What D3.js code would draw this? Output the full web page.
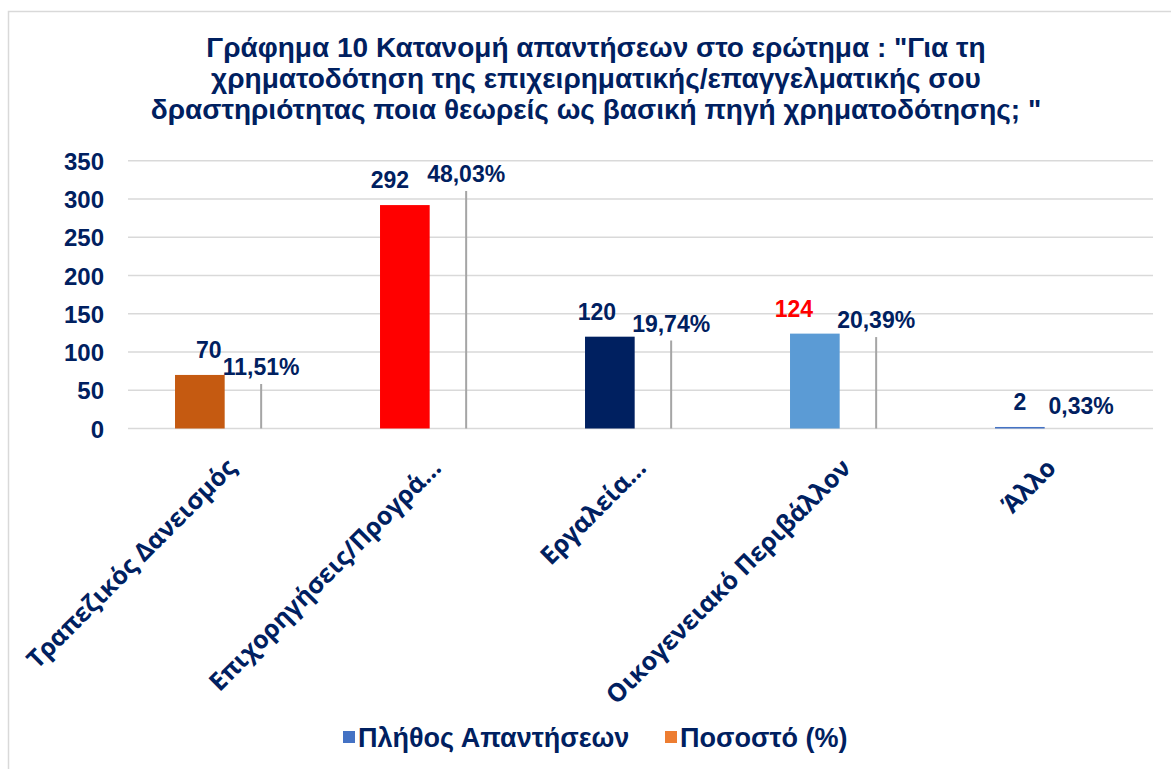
<!DOCTYPE html>
<html>
<head>
<meta charset="utf-8">
<script src="https://cdn.jsdelivr.net/npm/d3@7"></script>
<style>
html,body{margin:0;padding:0;background:#fff;}
svg{display:block;}
</style>
</head>
<body>
<svg id="chart" width="1171" height="769"></svg>
<script>
const titleLines = [
  "Γράφημα 10 Κατανομή απαντήσεων στο ερώτημα : \"Για τη",
  "χρηματοδότηση της επιχειρηματικής/επαγγελματικής σου",
  "δραστηριότητας ποια θεωρείς ως βασική πηγή χρηματοδότησης; \""
];
const categories = ["Τραπεζικός Δανεισμός","Επιχορηγήσεις/Προγρά…","Εργαλεία…","Οικογενειακό Περιβάλλον","Άλλο"];
const counts = [70, 292, 120, 124, 2];
const percents = [11.51, 48.03, 19.74, 20.39, 0.33];
const percentLabels = ["11,51%","48,03%","19,74%","20,39%","0,33%"];
const barColors = ["#C55A11","#FF0000","#002060","#5B9BD5","#4472C4"];
const countLabelColors = ["#002060","#002060","#002060","#FF0000","#002060"];
const yTicks = [0,50,100,150,200,250,300,350];
const seriesNames = ["Πλήθος Απαντήσεων","Ποσοστό (%)"];
const legendColors = ["#4472C4","#ED7D31"];
// layout: horizontal nudge of the count labels (as placed in the original)
const countLabelShift = [9, -15, -13, -21, 0];

const navy = "#002060";
const svg = d3.select("#chart");

// chart border
svg.append("rect").attr("x",8.5).attr("y",11.5).attr("width",1200).attr("height",800)
  .attr("fill","none").attr("stroke","#D9D9D9").attr("stroke-width",1.5);

// title
svg.append("g").selectAll("text").data(titleLines).join("text")
  .attr("x",596).attr("y",(d,i)=>57+i*31)
  .attr("text-anchor","middle")
  .attr("font-family","'Liberation Sans', Arial, sans-serif")
  .attr("font-weight","bold").attr("font-size",28)
  .attr("fill",navy).text(d=>d);

const plotL = 128, plotR = 1153, plotT = 160.7, plotB = 428.5;
const x = d3.scaleBand().domain(categories).range([plotL, plotR]).padding(0);
const inner = d3.scaleBand().domain(["count","pct"]).range([0, x.bandwidth()])
  .paddingInner(0.19).paddingOuter(0.767);
const y = d3.scaleLinear().domain([0,350]).range([plotB, plotT]);
const ySec = d3.scaleLinear().domain([3.09, 53.76]).range([plotB, plotT]);

// gridlines
svg.append("g").selectAll("line").data(yTicks).join("line")
  .attr("x1",plotL).attr("x2",plotR)
  .attr("y1",d=>y(d)).attr("y2",d=>y(d))
  .attr("stroke","#D9D9D9").attr("stroke-width",1.5);

// y axis labels
const yAxis = d3.axisLeft(y).tickValues(yTicks).tickSize(0).tickPadding(0).tickFormat(d3.format("d"));
const gy = svg.append("g").attr("transform",`translate(${plotL-24},0)`).call(yAxis);
gy.select(".domain").remove();
gy.selectAll("text").attr("font-family","'Liberation Sans', Arial, sans-serif")
  .attr("font-weight","bold").attr("font-size",24).attr("fill",navy).attr("dy","0.36em");

const data = categories.map((c,i)=>({c, n:counts[i], p:percents[i], pl:percentLabels[i], col:barColors[i], lc:countLabelColors[i], sh:countLabelShift[i]}));

// count bars
svg.append("g").selectAll("rect").data(data).join("rect")
  .attr("x",d=>x(d.c)+inner("count"))
  .attr("width",inner.bandwidth())
  .attr("y",d=>y(d.n)).attr("height",d=>plotB-y(d.n))
  .attr("fill",d=>d.col);

// percent bars (thin)
svg.append("g").selectAll("rect").data(data.filter(d=>ySec(d.p)<plotB)).join("rect")
  .attr("x",d=>x(d.c)+inner("pct")+inner.bandwidth()/2-1)
  .attr("width",2)
  .attr("y",d=>ySec(d.p)).attr("height",d=>plotB-ySec(d.p))
  .attr("fill","#A5A5A5");

// count labels
svg.append("g").selectAll("text").data(data).join("text")
  .attr("x",d=>x(d.c)+inner("count")+inner.bandwidth()/2+d.sh)
  .attr("y",d=>y(d.n)-17)
  .attr("text-anchor","middle")
  .attr("font-family","'Liberation Sans', Arial, sans-serif")
  .attr("font-weight","bold").attr("font-size",23)
  .attr("fill",d=>d.lc).text(d=>d.n);

// percent labels
svg.append("g").selectAll("text").data(data).join("text")
  .attr("x",d=>x(d.c)+inner("pct")+inner.bandwidth()/2)
  .attr("y",d=>Math.min(ySec(d.p), plotB-6)-9)
  .attr("text-anchor","middle")
  .attr("font-family","'Liberation Sans', Arial, sans-serif")
  .attr("font-weight","bold").attr("font-size",23)
  .attr("fill",navy).text(d=>d.pl);

// x labels
svg.append("g").selectAll("text").data(categories).join("text")
  .attr("transform",d=>`translate(${x(d)+x.bandwidth()/2+7},${plotB+41}) rotate(-45)`)
  .attr("text-anchor","end")
  .attr("font-family","'Open Sans', 'Noto Sans', sans-serif")
  .attr("font-weight","bold").attr("font-size",25)
  .attr("fill",navy).text(d=>d);

// legend
const legend = svg.append("g");
const legX = [343, 665];
seriesNames.forEach((s,i)=>{
  legend.append("rect").attr("x",legX[i]).attr("y",731).attr("width",12).attr("height",12).attr("fill",legendColors[i]);
  legend.append("text").attr("x",legX[i]+15).attr("y",747)
    .attr("font-family","'Liberation Sans', Arial, sans-serif")
    .attr("font-weight","bold").attr("font-size",27)
    .attr("fill",navy).text(s);
});
</script>
</body>
</html>
